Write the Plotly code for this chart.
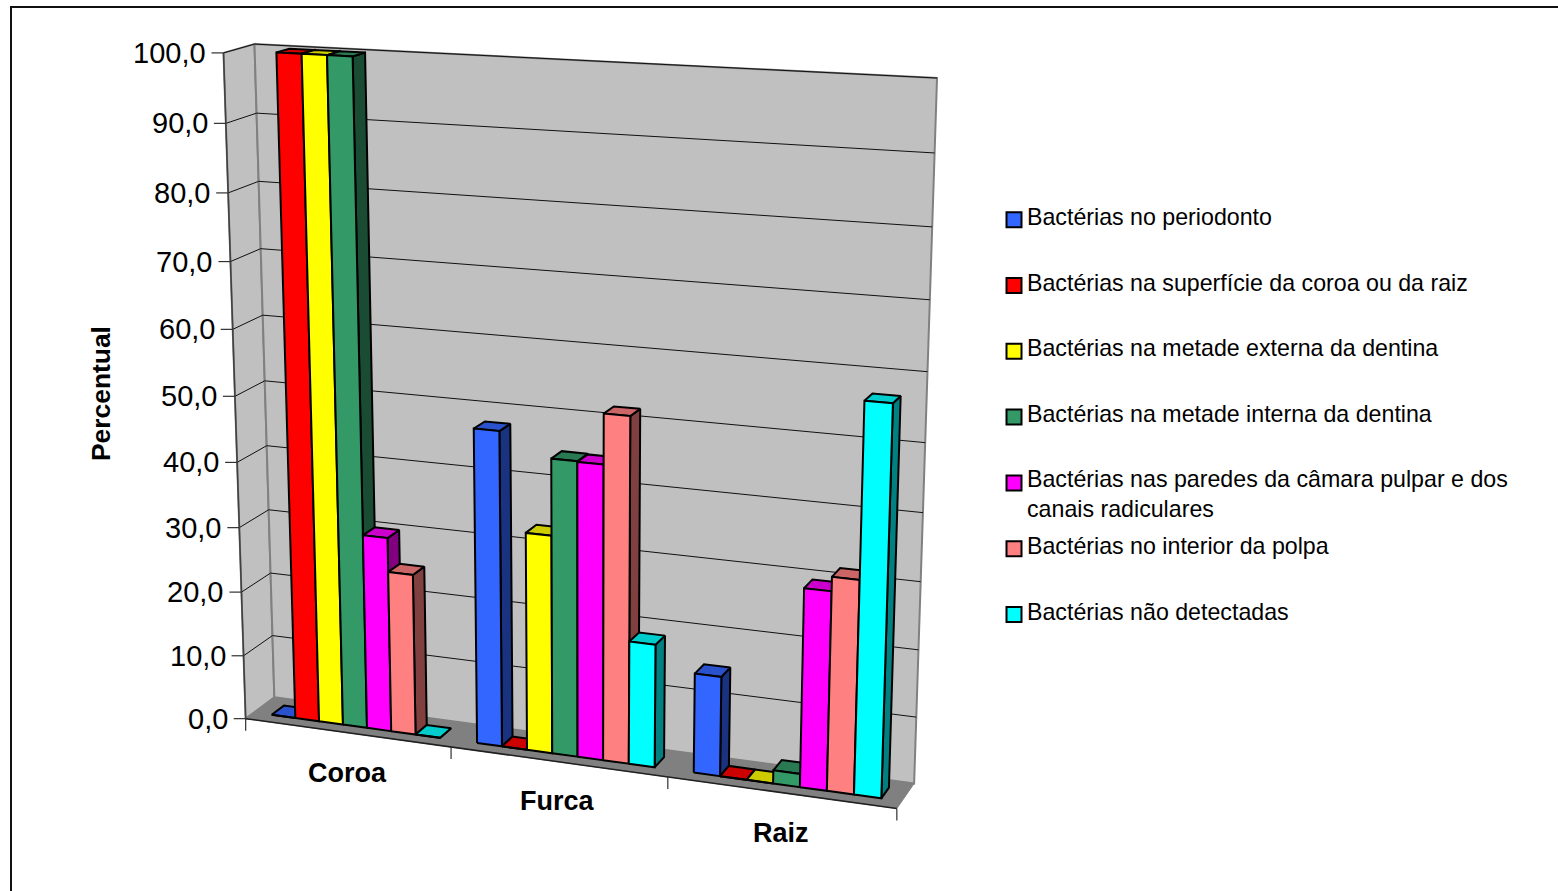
import numpy as np
import plotly.graph_objects as go

# Chart data
CATEGORIES = ["Coroa", "Furca", "Raiz"]
SERIES_NAMES = [
    "Bactérias no periodonto",
    "Bactérias na superfície da coroa ou da raiz",
    "Bactérias na metade externa da dentina",
    "Bactérias na metade interna da dentina",
    "Bactérias nas paredes da câmara pulpar e dos<br>canais radiculares",
    "Bactérias no interior da polpa",
    "Bactérias não detectadas",
]
PERIODONTO = [0.0, 47.8, 15.0]
SUPERFICIE = [100.0, 0.0, 0.0]
EXTERNA = [100.0, 33.1, 0.0]
INTERNA = [100.0, 44.5, 2.0]
PAREDES = [30.0, 44.4, 29.5]
POLPA = [24.8, 51.8, 31.6]
NAO_DETECTADAS = [0.0, 18.6, 57.0]
SERIES_VALUES = [PERIODONTO, SUPERFICIE, EXTERNA, INTERNA, PAREDES, POLPA, NAO_DETECTADAS]
SERIES_COLORS = ["#3366FF", "#FF0000", "#FFFF00", "#339966", "#FF00FF", "#FF8080", "#00FFFF"]
AXIS_TICKS = [0, 10, 20, 30, 40, 50, 60, 70, 80, 90, 100]
AXIS_TITLE = "Percentual"

W, H = 1558, 891

# Camera of the 3D box: unit-cube corners (category, value, depth) and their screen positions
BOX_CORNERS = [
    ((0, 0, 0), (246, 719)), ((1, 0, 0), (897, 808)), ((0, 1, 0), (223, 53)),
    ((0, 0, 1), (274, 697)), ((1, 0, 1), (914, 784)), ((0, 1, 1), (255, 44)),
    ((1, 1, 1), (937, 78)),
]


def fit_camera(pairs):
    rows = []
    for (a, b, c), (x, y) in pairs:
        rows.append([a, b, c, 1, 0, 0, 0, 0, -x * a, -x * b, -x * c, -x])
        rows.append([0, 0, 0, 0, a, b, c, 1, -y * a, -y * b, -y * c, -y])
    return np.linalg.svd(np.array(rows, float))[2][-1].reshape(3, 4)


CAM = fit_camera(BOX_CORNERS)


def project(u, value, w):
    q = CAM @ np.array([u, value / 100.0, w, 1.0])
    return q[0] / q[2], q[1] / q[2]


def darken(color, k):
    r, g, b = (int(color[i:i + 2], 16) for i in (1, 3, 5))
    return f"rgb({r * k:.0f},{g * k:.0f},{b * k:.0f})"


fig = go.Figure()


def polygon(points, fill, line="#000000", width=2.0):
    xs, ys = zip(*[project(*p) for p in points + points[:1]])
    fig.add_trace(go.Scatter(x=xs, y=ys, mode="lines", fill="toself", fillcolor=fill,
                             line=dict(color=line, width=width), hoverinfo="skip", showlegend=False))


def segments(pairs, color, width):
    xs, ys = [], []
    for a, b in pairs:
        for p in (a, b):
            x, y = project(*p)
            xs.append(x)
            ys.append(y)
        xs.append(None)
        ys.append(None)
    fig.add_trace(go.Scatter(x=xs, y=ys, mode="lines", line=dict(color=color, width=width),
                             hoverinfo="skip", showlegend=False))


# Walls and floor
polygon([(0, 0, 0), (0, 100, 0), (0, 100, 1), (0, 0, 1)], "#C0C0C0", "#808080", 2)
polygon([(0, 0, 1), (0, 100, 1), (1, 100, 1), (1, 0, 1)], "#C0C0C0", "#808080", 2)
polygon([(0, 0, 0), (1, 0, 0), (1, 0, 1), (0, 0, 1)], "#808080", "#808080", 1)

# Gridlines across the side wall and the back wall
grid = []
for t in AXIS_TICKS[1:]:
    grid.append(((0, t, 0), (0, t, 1)))
    grid.append(((0, t, 1), (1, t, 1)))
segments(grid, "#101010", 1)
segments([((0, 0, 0), (0, 100, 0))], "#404040", 1.5)
segments([((0, 0, 0), (1, 0, 0))], "#202020", 1.5)

# Tick marks: value ticks left of the front edge, category ticks below the floor
n_cat = len(CATEGORIES)
xs, ys = [], []
for t in AXIS_TICKS:
    x, y = project(0, t, 0)
    xs += [x - 12, x, None]
    ys += [y, y, None]
for i in range(n_cat + 1):
    x, y = project(i / n_cat, 0, 0)
    xs += [x, x, None]
    ys += [y, y + 12, None]
fig.add_trace(go.Scatter(x=xs, y=ys, mode="lines", line=dict(color="#303030", width=1.2),
                         hoverinfo="skip", showlegend=False))

# Bars, painted left to right so each one overlaps the side of its neighbour
GAP = 1.5
DEPTH_FRONT, DEPTH_BACK = 0.29, 0.72
n_series = len(SERIES_VALUES)
bar_w = (1 / n_cat) / (n_series + GAP)
for c in range(n_cat):
    for s in range(n_series):
        v = SERIES_VALUES[s][c]
        col = SERIES_COLORS[s]
        u0 = c / n_cat + (GAP / 2 + s) * bar_w
        u1 = u0 + bar_w
        w0, w1 = DEPTH_FRONT, DEPTH_BACK
        polygon([(u1, 0, w0), (u1, v, w0), (u1, v, w1), (u1, 0, w1)], darken(col, 0.5))
        polygon([(u0, v, w0), (u1, v, w0), (u1, v, w1), (u0, v, w1)], darken(col, 0.8))
        polygon([(u0, 0, w0), (u1, 0, w0), (u1, v, w0), (u0, v, w0)], col)

FONT = "Liberation Sans, Arial, sans-serif"
annotations = []


def label(x, y, text, size, bold=False, anchor="center", angle=0):
    annotations.append(dict(x=x, y=y, xref="x", yref="y", text=f"<b>{text}</b>" if bold else text,
                            showarrow=False, xanchor=anchor, yanchor="middle", align="left",
                            textangle=angle, font=dict(family=FONT, size=size, color="#000000")))


for t in AXIS_TICKS:
    x, y = project(0, t, 0)
    label(x - 16, y, f"{t:.1f}".replace(".", ","), 29, anchor="right")
CATEGORY_DROP = [40, 39, 41]
for i, cat in enumerate(CATEGORIES):
    x, y = project((i + 0.5) / n_cat, 0, 0)
    label(x, y + CATEGORY_DROP[i], cat, 27, bold=True)
label(101, 394, AXIS_TITLE, 26.4, bold=True, angle=-90)

# Legend column
LEGEND_X, LEGEND_TOP, LEGEND_STEP = 1014, 219.7, 65.8
for s, name in enumerate(SERIES_NAMES):
    y = LEGEND_TOP + s * LEGEND_STEP
    fig.add_trace(go.Scatter(x=[LEGEND_X], y=[y], mode="markers", name=name.replace("<br>", " "),
                             marker=dict(symbol="square", size=15, color=SERIES_COLORS[s],
                                         line=dict(color="#000000", width=2)),
                             hoverinfo="skip", showlegend=False))
    two_lines = "<br>" in name
    label(1025, y - 3 + (14 if two_lines else 0), name, 23.2, anchor="left")

fig.update_layout(
    width=W, height=H, margin=dict(l=0, r=0, t=0, b=0), showlegend=False,
    paper_bgcolor="#FFFFFF", plot_bgcolor="#FFFFFF",
    xaxis=dict(range=[0, W], visible=False, fixedrange=True),
    yaxis=dict(range=[H, 0], visible=False, fixedrange=True),
    annotations=annotations,
    # Chart frame: only its top and left edges fall inside the page
    shapes=[dict(type="rect", xref="x", yref="y", x0=11, y0=7, x1=W + 20, y1=H + 20,
                 line=dict(color="#111111", width=2), layer="below")],
)
fig.write_html("out.html", config=dict(displayModeBar=False))
